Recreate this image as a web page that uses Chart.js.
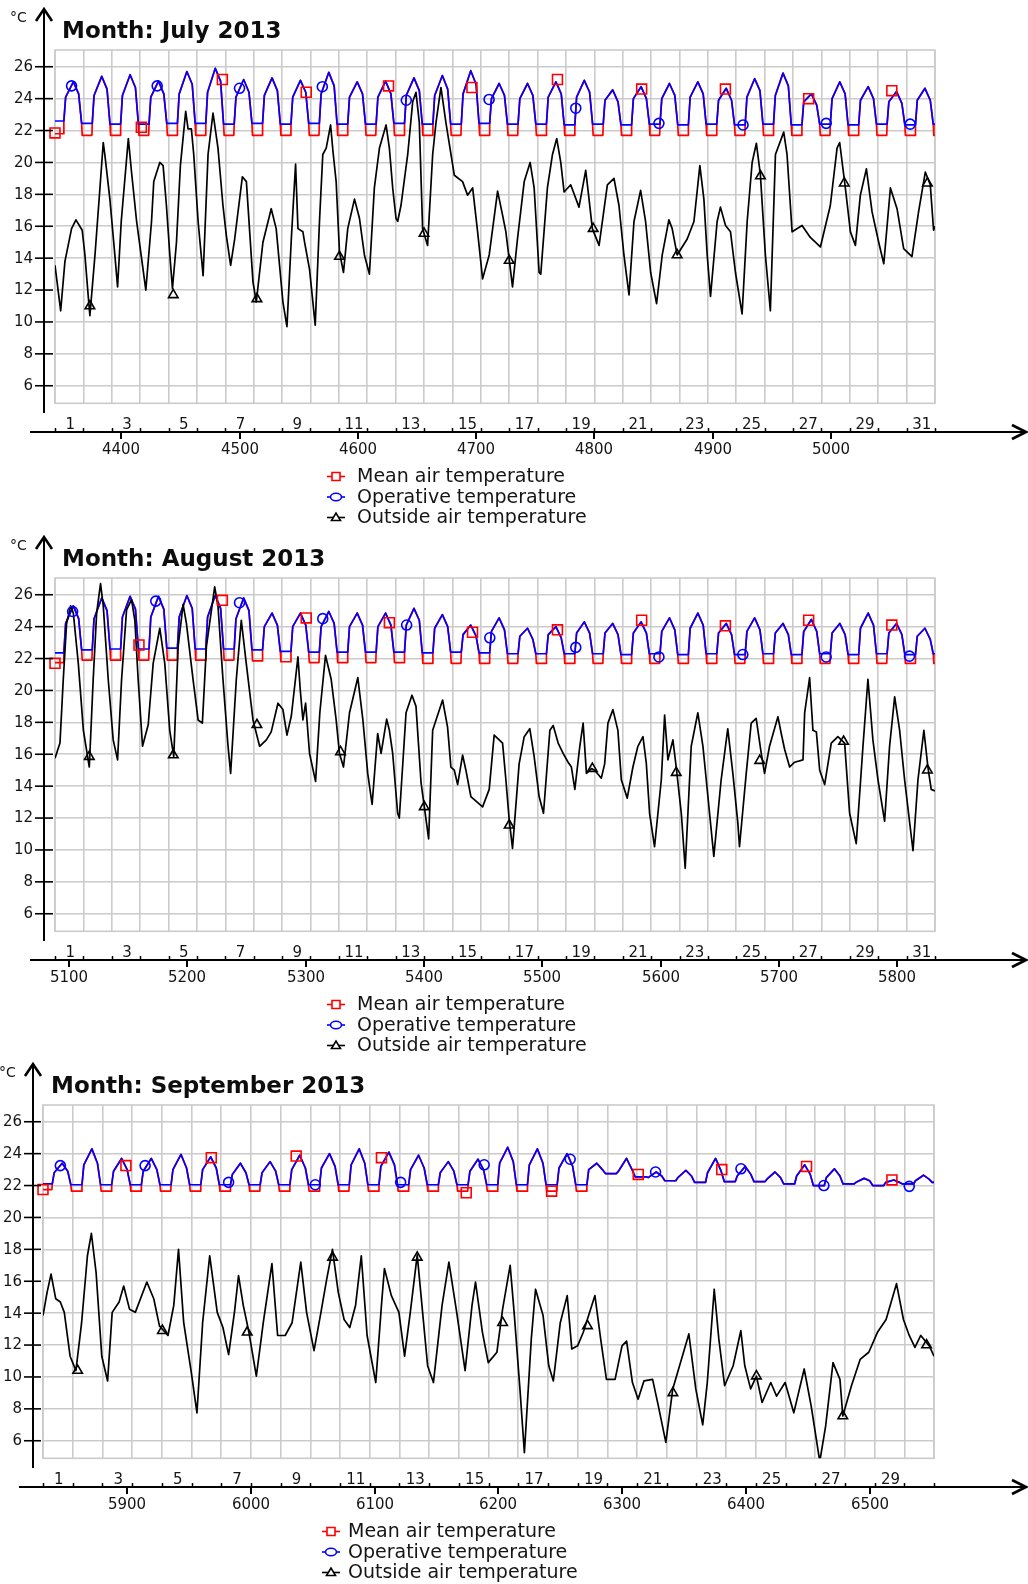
<!DOCTYPE html>
<html><head><meta charset="utf-8">
<script src="https://cdn.jsdelivr.net/npm/chart.js@4.4.1/dist/chart.umd.min.js"></script>
<style>
html,body{margin:0;padding:0;background:#fff;}
body{width:1028px;height:1584px;position:relative;overflow:hidden;}
canvas{position:absolute;left:0;}
</style></head><body>
<canvas id="c1" width="1028" height="528" style="top:0px;width:1028px;height:528px"></canvas>
<canvas id="c2" width="1028" height="527" style="top:528px;width:1028px;height:527px"></canvas>
<canvas id="c3" width="1028" height="529" style="top:1055px;width:1028px;height:529px"></canvas>
<script>
// ---------------- DATA ----------------
const seriesNames = ['Mean air temperature', 'Operative temperature', 'Outside air temperature'];
const monthTitles = ['Month: July 2013', 'Month: August 2013', 'Month: September 2013'];
const monthStartHours = [4344, 5088, 5832];
const monthDays = [31, 31, 30];
const yTickValues = [6, 8, 10, 12, 14, 16, 18, 20, 22, 24, 26];
const julyHourTicks = [4400, 4500, 4600, 4700, 4800, 4900, 5000];
const augHourTicks = [5100, 5200, 5300, 5400, 5500, 5600, 5700, 5800];
const sepHourTicks = [5900, 6000, 6100, 6200, 6300, 6400, 6500];

// indoor: daily peak, morning (~9h), evening (~20h) values; night levels (one per night, days+1)
const julyPeak = [25.05,25.4,25.5,25.1,25.7,25.9,25.2,25.3,25.15,25.65,25.05,25.1,25.3,25.45,25.75,24.95,24.95,25.05,25.15,24.55,24.75,24.95,25.05,24.65,25.25,25.6,24.3,25.05,24.75,24.45,24.65];
const julyMorning = [24.1,24.2,24.2,24.1,24.3,24.4,24.1,24.2,24.1,24.3,24.1,24.1,24.2,24.2,24.3,24.0,24.0,24.1,24.1,23.9,24.0,24.0,24.1,23.9,24.1,24.2,23.8,24.0,23.9,23.8,23.9];
const julyEvening = [24.3,24.6,24.7,24.3,24.9,25.1,24.4,24.5,24.4,24.8,24.3,24.3,24.5,24.6,24.9,24.2,24.2,24.3,24.4,23.8,24.0,24.2,24.3,23.9,24.5,24.8,23.6,24.3,24.0,23.7,23.9];
const julyOpNight = [22.6,22.45,22.4,22.4,22.45,22.45,22.4,22.45,22.4,22.45,22.4,22.4,22.45,22.4,22.4,22.45,22.4,22.4,22.35,22.4,22.35,22.4,22.35,22.4,22.35,22.4,22.35,22.4,22.35,22.4,22.35,22.4];
const julyAirNight = [21.8,21.7,21.7,21.7,21.7,21.7,21.7,21.7,21.7,21.7,21.7,21.7,21.7,21.7,21.7,21.7,21.7,21.7,21.7,21.7,21.7,21.7,21.7,21.7,21.7,21.7,21.7,21.7,21.7,21.7,21.7,21.7];

const augPeak = [25.3,25.8,25.9,25.9,25.95,25.95,25.8,24.85,24.85,24.95,24.85,24.85,25.15,24.75,24.1,24.55,23.9,24.0,24.3,24.2,24.3,24.55,24.85,24.2,24.55,24.2,24.45,24.2,24.85,24.2,23.9];
const augMorning = [24.2,24.5,24.6,24.6,24.6,24.6,24.5,24.0,24.0,24.0,24.0,24.0,24.1,23.9,23.5,23.7,23.4,23.5,23.6,23.6,23.6,23.7,23.9,23.6,23.7,23.6,23.7,23.6,23.9,23.6,23.4];
const augEvening = [24.5,25.0,25.1,25.1,25.15,25.15,25.0,24.1,24.1,24.2,24.1,24.1,24.4,24.0,23.4,23.8,23.2,23.3,23.6,23.5,23.6,23.8,24.1,23.5,23.8,23.5,23.7,23.5,24.1,23.5,23.2];
const augOpNight = [22.35,22.55,22.6,22.6,22.65,22.6,22.6,22.55,22.45,22.4,22.4,22.4,22.4,22.35,22.4,22.35,22.3,22.3,22.3,22.3,22.25,22.3,22.25,22.3,22.25,22.3,22.25,22.3,22.25,22.3,22.25,22.3];
const augAirNight = [21.75,21.9,21.9,21.9,21.9,21.9,21.9,21.85,21.8,21.75,21.75,21.75,21.75,21.7,21.7,21.7,21.7,21.7,21.7,21.7,21.7,21.7,21.7,21.7,21.7,21.7,21.7,21.7,21.7,21.7,21.7,21.7];

const sepPeak = [23.4,24.3,23.7,23.7,23.95,23.8,23.4,23.5,23.9,24.0,24.3,24.1,23.9,23.5,23.65,24.4,24.3,24.0,23.4,23.7,22.85,22.95,23.7,23.2,22.85,23.3,23.05,22.45,22.35,22.65];
const sepMorning = [22.8,23.3,22.9,22.9,23.0,23.0,22.7,22.8,23.0,23.1,23.3,23.2,23.0,22.8,22.9,23.4,23.3,23.1,23.0,22.9,22.5,22.5,22.8,22.6,22.4,22.6,22.5,22.2,22.2,22.3];
const sepEvening = [22.9,23.4,23.0,23.0,23.1,23.1,22.8,22.9,23.1,23.2,23.4,23.3,23.1,22.9,23.0,23.5,23.4,23.2,23.0,23.0,22.6,22.6,22.9,22.7,22.5,22.7,22.6,22.3,22.2,22.4];
const sepOpNight = [22.1,22.05,22.05,22.05,22.05,22.05,22.05,22.05,22.05,22.05,22.05,22.05,22.05,22.05,22.05,22.05,22.05,22.05,22.05,22.75,22.55,22.3,22.2,22.25,22.25,22.1,22.0,22.1,22.0,22.1,22.2];
const sepAirNight = [21.75,21.65,21.65,21.65,21.65,21.65,21.65,21.65,21.65,21.65,21.65,21.65,21.65,21.65,21.65,21.65,21.65,21.65,21.65,22.75,22.55,22.3,22.2,22.25,22.25,22.1,22.0,22.1,22.0,22.1,22.2];

// outside air temperature: [hour since month start, °C]
const julyOutside = [[0,13.55],[4.8,10.7],[8.4,13.8],[14,15.85],[17.7,16.4],[23,15.75],[25.3,14.2],[28,11.7],[29.5,10.4],[33.8,14.2],[38,18.4],[40.8,21.25],[42.2,20.45],[46.4,17.7],[50.6,14.2],[52.9,12.2],[56,16.3],[62,21.5],[64.7,19.4],[69,16.3],[76.8,12.0],[81.6,16.3],[83.5,18.8],[88.6,20.0],[91.4,19.8],[94.2,17.3],[97.1,14.2],[99.3,12.1],[102.7,15.0],[106,19.8],[110.5,23.2],[112.5,22.1],[115.3,22.1],[117.3,20.5],[121,16.3],[125.2,12.9],[126.6,15.4],[129.4,20.5],[133.6,23.1],[137.8,20.9],[142,17.3],[144.9,15.4],[148.5,13.55],[151.9,15.2],[158.4,19.1],[161.8,18.8],[164.6,15.65],[167.4,12.5],[170.2,11.25],[175.8,15.0],[182.8,17.1],[187,15.85],[192.7,11.25],[196.1,9.7],[199.8,15.2],[203.4,19.9],[205.4,15.85],[209.6,15.65],[211,15.0],[215.2,13.3],[220,9.8],[223.6,16.3],[226.4,20.5],[229.3,20.9],[233,22.35],[235,20.7],[237.7,18.8],[240.5,14.4],[243.9,13.1],[247.5,15.85],[253.2,17.7],[257.4,16.5],[261.6,14.2],[265.8,13.0],[270,18.4],[274.3,20.9],[279.9,22.35],[282.7,20.9],[285.5,18.4],[288.3,16.5],[289.7,16.3],[292.5,17.3],[298.2,20.5],[302.4,23.8],[305.2,24.4],[308,22.5],[310.8,15.85],[315,14.8],[319.3,20.5],[322.1,22.5],[326.3,24.7],[330.5,22.5],[337.6,19.2],[344.6,18.8],[348.8,17.95],[353.1,18.4],[357.3,15.65],[361.5,12.7],[367.1,14.2],[374.2,18.2],[378.4,16.7],[381.2,15.65],[386.8,12.2],[391,15.2],[396.7,18.8],[401.7,20.0],[405.1,18.4],[409.3,13.1],[410.7,13.0],[416.3,18.4],[420.6,20.5],[424.2,21.5],[427.6,20.0],[430.4,18.15],[436,18.6],[443,17.2],[448.7,19.5],[451.5,17.7],[454.3,15.85],[460,14.8],[467,18.6],[472.6,19.0],[476.8,17.3],[481,14.2],[485.3,11.7],[489.5,16.3],[495.1,18.25],[499.3,16.3],[503.6,13.1],[508.6,11.15],[513.4,14.2],[519,16.4],[521.8,15.85],[526,14.2],[534.5,15.2],[540.2,16.3],[545.2,19.8],[548.6,17.7],[551.4,14.2],[554.2,11.6],[559.8,16.3],[562.6,17.2],[566.9,16.05],[571.1,15.65],[575.3,13.1],[580.9,10.5],[585.2,16.3],[589.4,20.0],[593,21.2],[596.4,19.2],[600.6,14.2],[604.8,10.7],[609.1,20.5],[616.1,21.9],[618.9,20.5],[623.2,15.65],[631.6,16.05],[638.6,15.3],[647.1,14.7],[655.5,17.3],[661.2,20.9],[663.4,21.25],[668.2,18.4],[672.5,15.65],[676.7,14.8],[680.9,17.95],[686,19.6],[690.8,16.9],[696.4,15.0],[700.7,13.65],[706.3,18.4],[711.9,17.1],[717.5,14.6],[724.5,14.1],[730.1,16.9],[735.8,19.4],[740,18.6],[742.8,15.75],[744,16.0]];

const augOutside = [[0,15.75],[4.2,16.7],[7,20.7],[9.8,24.2],[13.2,25.3],[15.5,24.85],[19.7,21.7],[24,17.5],[29,15.2],[32.3,20.7],[35.2,24.85],[38.5,26.7],[40.8,25.3],[45,20.7],[49.2,16.9],[52.9,15.65],[56.3,20.7],[60.5,25.05],[64.7,25.7],[67.5,24.4],[70.3,20.7],[74,16.5],[78.8,17.85],[83,21.7],[88.6,23.9],[92.8,21.7],[97,17.5],[100.4,15.85],[104.1,22.75],[108.3,25.4],[111.1,24.2],[116.7,20.7],[121,18.15],[124.6,17.95],[128,22.75],[135,26.5],[137.8,25.3],[142,20.7],[146.3,16.5],[148.5,14.8],[153.3,20.7],[157.5,24.4],[161.7,21.7],[167.4,18.15],[173,16.5],[178.7,16.9],[182.8,17.4],[188.5,19.2],[192.7,18.8],[196.1,17.2],[199.8,18.4],[205.4,22.1],[207.4,20.0],[209.6,18.15],[211.9,19.2],[215.2,16.05],[220.3,14.3],[223.9,18.6],[228.7,22.2],[233.5,20.7],[237.7,18.15],[240.5,16.05],[243.9,15.2],[249,18.6],[256,20.8],[260.3,18.15],[264.4,14.8],[268.1,12.85],[272.8,17.3],[275.7,16.05],[280.4,18.2],[282.7,17.5],[285.5,16.05],[289.7,12.3],[291.1,12.0],[296.8,18.6],[301.8,19.7],[305.2,19.0],[309.5,14.2],[315.9,10.7],[319.3,17.5],[327.7,19.4],[331.9,17.7],[334.7,15.2],[337.6,15.0],[340.4,14.1],[344.6,15.95],[347.4,15.0],[351.6,13.35],[361.5,12.7],[367.1,13.8],[371.3,17.2],[378.4,16.7],[381.2,14.4],[384,11.9],[386.8,10.1],[392.4,15.4],[396.7,17.1],[401.4,17.6],[405.1,15.85],[409.3,13.35],[413,12.3],[418.4,17.5],[421.2,17.8],[425.4,16.7],[429.6,16.05],[433.8,15.5],[436.6,15.2],[439.5,13.8],[443.7,16.5],[446.5,17.95],[449.3,14.8],[453.5,15.1],[456.3,15.0],[461.9,14.5],[464.7,15.4],[467.5,17.95],[471.7,18.8],[475.9,17.5],[478.8,14.4],[483.8,13.25],[488.6,15.2],[492.8,16.5],[497.1,17.1],[499.9,15.45],[502.7,12.3],[506.9,10.2],[512.6,14.4],[515.4,18.45],[518.2,15.65],[522.4,16.9],[525.2,15.2],[529.5,12.3],[532.8,8.85],[537.9,16.5],[543.5,18.6],[547.8,16.5],[552,13.35],[557,9.6],[563.2,14.4],[568.8,17.6],[573.1,14.8],[577.3,11.7],[578.7,10.2],[584.4,14.8],[588.6,17.95],[592.8,18.25],[597.1,16.05],[599.9,14.8],[604.1,16.5],[611.2,18.35],[614,17.3],[616.9,16.3],[621.1,15.2],[625.3,15.5],[632.4,15.65],[633.8,18.6],[638,20.8],[640.8,17.5],[643.7,17.4],[646.5,15.0],[650.7,14.1],[656.3,16.7],[661.9,17.1],[667.6,16.7],[671.8,12.3],[677.4,10.4],[683.1,16.5],[687.3,20.7],[691.5,16.9],[695.8,14.4],[701.4,11.8],[705.6,16.5],[709.9,19.6],[714.1,17.5],[718.3,14.4],[725.4,9.95],[729.6,14.4],[734.6,17.5],[738,15.2],[740.8,13.8],[744,13.7]];

const sepOutside = [[0,13.85],[3.3,15.3],[6.5,16.45],[10.3,14.9],[14,14.7],[17.2,14.05],[21.9,11.3],[26.6,10.4],[31.2,13.4],[35.9,17.6],[39.1,19.0],[42.9,16.55],[47.5,11.3],[52.2,9.75],[55.9,14.05],[61.5,14.7],[65.2,15.7],[69.9,14.25],[74.6,14.05],[83.9,15.95],[89.5,14.9],[94.1,13.2],[101,12.6],[105.7,14.5],[109.5,18.0],[113.7,13.4],[119.8,10.3],[124.4,7.75],[129,13.4],[134.7,17.6],[140.8,14.05],[145.4,13.1],[150,11.4],[154.7,14.05],[158,16.35],[161.8,14.5],[166.4,12.8],[172.4,10.05],[178,13.4],[185,17.1],[189.6,12.6],[195.7,12.6],[201.3,13.4],[208.3,17.2],[213,14.05],[219,11.65],[224.6,14.05],[229.3,16.15],[233.9,18.0],[238.6,15.3],[243.3,13.6],[247.9,13.1],[252.6,14.5],[257.2,17.6],[261.9,12.6],[268.9,9.65],[273.5,14.5],[275.9,16.8],[281.5,15.1],[287.6,14.05],[292.2,11.3],[296.8,14.05],[302.4,17.65],[306.2,14.5],[310.8,10.7],[315.5,9.65],[322.5,14.5],[328,17.2],[334.3,14.05],[341.1,10.4],[346.7,14.5],[349.5,15.95],[355.1,12.8],[359.8,10.9],[366.8,11.55],[371.4,14.25],[377.5,17.0],[380.7,14.05],[385.4,9.25],[389,5.25],[394.6,12.4],[398,15.5],[404.1,13.85],[408.7,10.7],[412.4,9.75],[418,13.4],[423.6,15.1],[427.3,11.75],[432,11.95],[436.6,12.8],[446,15.1],[450.6,12.4],[455.3,9.85],[462.3,9.85],[467.9,11.95],[471.6,12.25],[476.3,9.65],[480.9,8.6],[485.6,9.75],[492.6,9.85],[497.2,8.2],[503.3,5.9],[508.9,9.25],[521.9,12.7],[527.5,9.25],[533.1,7.0],[536.8,9.65],[542.4,15.5],[546.1,12.4],[550.8,9.45],[557.7,10.7],[563.9,12.9],[567.1,10.7],[571.8,9.25],[576.5,10.05],[581.1,8.4],[588.1,9.65],[592.8,8.8],[599.7,9.65],[606.7,7.75],[615.1,10.5],[620.7,8.2],[627.7,4.7],[632.4,6.9],[638.4,10.9],[644,9.85],[646.3,7.55],[653.3,9.45],[660.3,11.1],[667.3,11.55],[674.3,12.8],[681.3,13.6],[689.7,15.85],[695.3,13.6],[700,12.6],[704.6,11.85],[709.3,12.6],[716.2,11.95],[720,11.3]];

// marker symbols (hour since month start, °C)
const julyAirMarkHour = [0, 73, 141.5, 212.4, 282, 352.5, 424.8, 496, 566.8, 637.2, 707.5];
const julyAirMarkTemp = [21.85, 22.2, 25.2, 24.4, 24.8, 24.7, 25.2, 24.6, 24.6, 24.0, 24.5];
const julyOpMarkHour = [14, 86.4, 156, 226, 297, 367, 440.3, 510.6, 581.7, 652, 723];
const julyOpMarkTemp = [24.8, 24.8, 24.65, 24.75, 23.9, 23.95, 23.4, 22.45, 22.35, 22.45, 22.4];
const julyOutMarkHour = [29.5, 100, 170.7, 240.5, 312, 384, 455, 526, 596.4, 667.3, 737.6];
const julyOutMarkTemp = [11.0, 11.7, 11.45, 14.1, 15.55, 13.85, 15.85, 14.2, 19.15, 18.7, 18.7];

const augAirMarkHour = [0, 71, 141.5, 212.4, 282.7, 353, 424.8, 496, 566.8, 637.2, 707.5];
const augAirMarkTemp = [21.7, 22.85, 25.65, 24.55, 24.25, 23.65, 23.8, 24.4, 24.05, 24.4, 24.1];
const augOpMarkHour = [14.9, 85.2, 156, 226.4, 297.3, 367.6, 440.3, 510.6, 581.5, 652, 722.4];
const augOpMarkTemp = [24.95, 25.6, 25.5, 24.5, 24.1, 23.3, 22.7, 22.1, 22.25, 22.1, 22.15];
const augOutMarkHour = [29, 100, 170.7, 241.4, 312.2, 384, 454.3, 525.2, 595.8, 666.7, 737.6];
const augOutMarkTemp = [15.85, 15.95, 17.85, 16.15, 12.7, 11.55, 15.1, 14.85, 15.6, 16.8, 15.0];

const sepAirMarkHour = [0, 67, 136, 204.6, 273.5, 342, 411, 481, 548.5, 617, 686];
const sepAirMarkTemp = [21.75, 23.25, 23.75, 23.85, 23.75, 21.55, 21.65, 22.7, 23.0, 23.2, 22.35];
const sepOpMarkHour = [14, 82.5, 150, 220, 289, 356.5, 426, 495, 564, 631, 700];
const sepOpMarkTemp = [23.25, 23.25, 22.2, 22.05, 22.2, 23.3, 23.65, 22.85, 23.05, 22.0, 21.95];
const sepOutMarkHour = [28, 96.5, 165, 234, 302.4, 371.4, 440, 509, 576.5, 646.3, 714];
const sepOutMarkTemp = [10.4, 12.9, 12.8, 17.5, 17.5, 13.4, 13.2, 9.0, 10.05, 7.55, 12.0];

// ---------------- DRAWING ----------------
const FONT = '"DejaVu Sans", Verdana, sans-serif';
const TXT = '#151515';
const GRID = '#cbcbcb';
const RED = '#ff0000', BLUE = '#0000ff', BLACK = '#000000';

function buildPanel(canvasId, p) {
  const start = p.start, days = p.days, end = start + 24 * days;
  const op = [], air = [];
  for (let d = 0; d < days; d++) {
    const t = start + 24 * d;
    op.push({x: t, y: p.opNight[d]}, {x: t + 7.5, y: p.opNight[d]}, {x: t + 9, y: p.morning[d]},
            {x: t + 15.5, y: p.peak[d]}, {x: t + 20, y: p.evening[d]}, {x: t + 22.5, y: p.opNight[d + 1]});
    air.push({x: t, y: p.airNight[d]}, {x: t + 7.2, y: p.airNight[d]}, {x: t + 7.5, y: p.opNight[d]}, {x: t + 9, y: p.morning[d]},
             {x: t + 15.5, y: p.peak[d]}, {x: t + 20, y: p.evening[d]}, {x: t + 22.5, y: p.opNight[d + 1]}, {x: t + 23, y: p.airNight[d + 1]});
  }
  op.push({x: end, y: p.opNight[days]});
  air.push({x: end, y: p.airNight[days]});
  const outside = p.outside.map(a => ({x: start + a[0], y: a[1]}));
  const marks = (hs, ts) => hs.map((h, i) => ({x: start + h, y: ts[i]}));

  const H = p.height;
  const decor = {
    id: 'decor_' + canvasId,
    beforeDatasetsDraw(chart) {
      const c = chart.ctx, ca = chart.chartArea;
      c.save();
      c.strokeStyle = GRID; c.lineWidth = 1.6;
      c.strokeRect(ca.left, ca.top, ca.right - ca.left, ca.bottom - ca.top);
      c.restore();
    },
    afterDraw(chart) {
      const c = chart.ctx, ca = chart.chartArea, xs = chart.scales.x, ys = chart.scales.y;
      const ax = p.axisX, axY = 432;
      const line = (x1, y1, x2, y2) => { c.beginPath(); c.moveTo(x1, y1); c.lineTo(x2, y2); c.stroke(); };
      c.save();
      c.strokeStyle = BLACK; c.lineWidth = 2;
      // vertical axis with arrow
      line(ax, 10, ax, 413);
      c.lineWidth = 2.6;
      c.beginPath(); c.moveTo(ax - 8, 21); c.lineTo(ax, 9); c.lineTo(ax + 8, 21); c.stroke();
      // horizontal axis with arrow
      c.lineWidth = 2;
      line(ax - 14, axY, 1024, axY);
      c.lineWidth = 2.6;
      c.beginPath(); c.moveTo(1012, axY - 7); c.lineTo(1026, axY); c.lineTo(1012, axY + 7); c.stroke();
      // y ticks + labels
      c.lineWidth = 1.6;
      c.fillStyle = TXT; c.font = '15px ' + FONT; c.textAlign = 'right'; c.textBaseline = 'middle';
      for (const v of yTickValues) {
        const y = ys.getPixelForValue(v);
        line(ax - 9, y, ca.left - 2, y);
        c.fillText(String(v), ax - 11, y + 0.5);
      }
      // day ticks
      c.lineWidth = 1.5;
      for (let d = 0; d <= days; d++) {
        const x = Math.round(xs.getPixelForValue(start + 24 * d)) + 0.5;
        line(x, axY - 4, x, axY);
      }
      // day labels
      c.textAlign = 'center'; c.textBaseline = 'alphabetic';
      for (let d = 1; d <= days; d += 2) {
        const x = xs.getPixelForValue(start + 24 * (d - 1) + 12);
        c.fillText(String(d), x + 1, 429);
      }
      // hour ticks + labels
      c.lineWidth = 2;
      for (const h of p.hourTicks) {
        const x = Math.round(xs.getPixelForValue(h));
        line(x, axY, x, axY + 7);
        c.fillText(String(h), x, 454);
      }
      // unit
      c.font = '14px ' + FONT; c.textAlign = 'left'; c.textBaseline = 'middle';
      c.fillText('°C', ax - 34, 18);
      // title
      c.font = 'bold 23px ' + FONT; c.textBaseline = 'alphabetic'; c.fillStyle = '#0d0d0d';
      c.fillText(p.title, ax + 18, 38);
      // legend
      const colors = [RED, BLUE, BLACK];
      const rows = [476.5, 497, 517.5];
      c.font = '19px ' + FONT; c.textBaseline = 'middle';
      for (let i = 0; i < 3; i++) {
        const y = rows[i], lx = p.legendX;
        c.strokeStyle = colors[i]; c.lineWidth = 1.6;
        line(lx - 9, y, lx + 9, y);
        c.beginPath();
        if (i === 0) { c.rect(lx - 4, y - 4, 8, 8); }
        else if (i === 1) { c.ellipse(lx, y, 5.5, 3.8, 0, 0, Math.PI * 2); }
        else { c.moveTo(lx - 4.5, y + 3); c.lineTo(lx, y - 4.5); c.lineTo(lx + 4.5, y + 3); c.closePath(); }
        c.fillStyle = '#fff'; c.fill(); c.stroke();
        c.fillStyle = TXT;
        c.fillText(seriesNames[i], p.legendTextX, y + 1);
      }
      c.restore();
    }
  };

  new Chart(document.getElementById(canvasId), {
    type: 'line',
    data: {
      datasets: [
        {label: 'airMarks', data: marks(p.airMarkHour, p.airMarkTemp), showLine: false, pointStyle: 'rect',
         pointRadius: 7, pointBorderWidth: 1.6, pointBorderColor: RED, pointBackgroundColor: 'rgba(0,0,0,0)', order: 0, clip: false},
        {label: 'opMarks', data: marks(p.opMarkHour, p.opMarkTemp), showLine: false, pointStyle: 'circle',
         pointRadius: 5, pointBorderWidth: 1.6, pointBorderColor: BLUE, pointBackgroundColor: 'rgba(0,0,0,0)', order: 0, clip: false},
        {label: 'outMarks', data: marks(p.outMarkHour, p.outMarkTemp), showLine: false, pointStyle: 'triangle',
         pointRadius: 5.5, pointBorderWidth: 1.6, pointBorderColor: BLACK, pointBackgroundColor: 'rgba(0,0,0,0)', order: 0, clip: false},
        {label: seriesNames[2], data: outside, borderColor: BLACK, borderWidth: 1.7, pointRadius: 0, order: 3, clip: 0},
        {label: seriesNames[1], data: op, borderColor: BLUE, borderWidth: 1.7, pointRadius: 0, order: 4, clip: 0},
        {label: seriesNames[0], data: air, borderColor: RED, borderWidth: 1.7, pointRadius: 0, order: 5, clip: 0}
      ]
    },
    options: {
      responsive: false, animation: false, devicePixelRatio: 1, events: [],
      layout: {autoPadding: false, padding: {left: p.plotLeft, right: 1028 - p.plotRight, top: 50, bottom: H - 403.3}},
      plugins: {legend: {display: false}, tooltip: {enabled: false}},
      elements: {line: {tension: 0, borderJoinStyle: 'round'}},
      scales: {
        x: {type: 'linear', min: start, max: end,
            afterFit(s) { s.height = 0; },
            afterBuildTicks(s) { const t = []; for (let d = 0; d <= days; d++) t.push({value: start + 24 * d}); s.ticks = t; },
            ticks: {display: false}, border: {display: false},
            grid: {color: GRID, lineWidth: 1.6, drawTicks: false}},
        y: {type: 'linear', min: 4.9, max: 27.05,
            afterFit(s) { s.width = 0; },
            afterBuildTicks(s) { s.ticks = yTickValues.map(v => ({value: v})); },
            ticks: {display: false}, border: {display: false},
            grid: {color: GRID, lineWidth: 1.6, drawTicks: false}}
      }
    },
    plugins: [decor]
  });
}

buildPanel('c1', {
  title: monthTitles[0], start: monthStartHours[0], days: monthDays[0], hourTicks: julyHourTicks, height: 528,
  axisX: 44, plotLeft: 55, plotRight: 935, legendX: 336, legendTextX: 357,
  peak: julyPeak, morning: julyMorning, evening: julyEvening, opNight: julyOpNight, airNight: julyAirNight,
  outside: julyOutside,
  airMarkHour: julyAirMarkHour, airMarkTemp: julyAirMarkTemp, opMarkHour: julyOpMarkHour, opMarkTemp: julyOpMarkTemp,
  outMarkHour: julyOutMarkHour, outMarkTemp: julyOutMarkTemp
});
buildPanel('c2', {
  title: monthTitles[1], start: monthStartHours[1], days: monthDays[1], hourTicks: augHourTicks, height: 527,
  axisX: 44, plotLeft: 55, plotRight: 935, legendX: 336, legendTextX: 357,
  peak: augPeak, morning: augMorning, evening: augEvening, opNight: augOpNight, airNight: augAirNight,
  outside: augOutside,
  airMarkHour: augAirMarkHour, airMarkTemp: augAirMarkTemp, opMarkHour: augOpMarkHour, opMarkTemp: augOpMarkTemp,
  outMarkHour: augOutMarkHour, outMarkTemp: augOutMarkTemp
});
buildPanel('c3', {
  title: monthTitles[2], start: monthStartHours[2], days: monthDays[2], hourTicks: sepHourTicks, height: 529,
  axisX: 33, plotLeft: 43, plotRight: 934, legendX: 331, legendTextX: 348,
  peak: sepPeak, morning: sepMorning, evening: sepEvening, opNight: sepOpNight, airNight: sepAirNight,
  outside: sepOutside,
  airMarkHour: sepAirMarkHour, airMarkTemp: sepAirMarkTemp, opMarkHour: sepOpMarkHour, opMarkTemp: sepOpMarkTemp,
  outMarkHour: sepOutMarkHour, outMarkTemp: sepOutMarkTemp
});
</script>
</body></html>
